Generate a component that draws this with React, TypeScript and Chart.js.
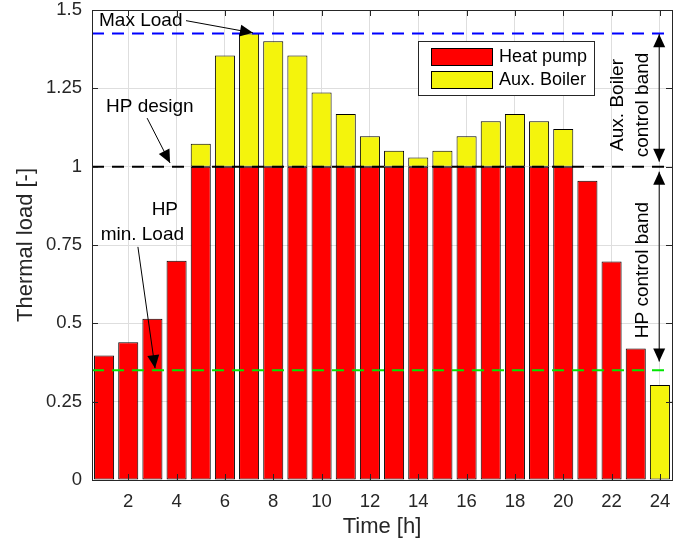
import React, { useEffect, useRef } from 'react';
import { Chart, registerables } from 'chart.js';

Chart.register(...registerables);

// ---------- data ----------
const hours = ['1', '2', '3', '4', '5', '6', '7', '8', '9', '10', '11', '12', '13', '14', '15', '16', '17', '18', '19', '20', '21', '22', '23', '24'];
const heatPump = [0.397, 0.44, 0.515, 0.7, 1, 1, 1, 1, 1, 1, 1, 1, 1, 1, 1, 1, 1, 1, 1, 1, 0.955, 0.697, 0.42, 0];
const auxBoiler = [0, 0, 0, 0, 0.073, 0.355, 0.425, 0.4, 0.355, 0.237, 0.168, 0.097, 0.051, 0.029, 0.051, 0.097, 0.145, 0.168, 0.145, 0.12, 0, 0, 0, 0.303];
const xTickLabels = ['2', '4', '6', '8', '10', '12', '14', '16', '18', '20', '22', '24'];
const yTickValues = [0, 0.25, 0.5, 0.75, 1, 1.25, 1.5];
const refLineValues = [1.425, 1, 0.35]; // max load, HP design, HP min load

// ---------- styles ----------
const FONT = '"Liberation Sans", Arial, Helvetica, sans-serif';
const AXIS_COLOR = '#262626';
const GRID_COLOR = '#dedede';
const refLineColors = ['#0000ff', '#000000', '#00e600'];
const seriesColors = ['#ff0000', '#f4f40c'];

// annotation placement in data units (x: hour, y: load)
const textNotes = [
  { text: 'Max Load', x: 0.79, y: 1.465, align: 'left', rot: 0 },
  { text: 'HP design', x: 1.08, y: 1.19, align: 'left', rot: 0 },
  { text: 'HP', x: 4.06, y: 0.862, align: 'right', rot: 0 },
  { text: 'min. Load', x: 4.31, y: 0.782, align: 'right', rot: 0 },
  { text: 'Aux. Boiler', x: 22.27, y: 1.197, align: 'center', rot: 1 },
  { text: 'control band', x: 23.31, y: 1.197, align: 'center', rot: 1 },
  { text: 'HP control band', x: 23.31, y: 0.67, align: 'center', rot: 1 },
];
const arrowNotes = [
  { x1: 4.39, y1: 1.466, x2: 7.16, y2: 1.427, both: false },
  { x1: 2.78, y1: 1.155, x2: 3.73, y2: 1.012, both: false },
  { x1: 2.4, y1: 0.744, x2: 3.11, y2: 0.357, both: false },
  { x1: 23.97, y1: 1.423, x2: 23.97, y2: 1.016, both: true },
  { x1: 23.97, y1: 0.984, x2: 23.97, y2: 0.378, both: true },
];
const legendAnchor = { x: 13.99, y: 1.401 };

function drawHead(ctx: CanvasRenderingContext2D, fx: number, fy: number, tx: number, ty: number) {
  const ang = Math.atan2(ty - fy, tx - fx);
  const len = 13;
  const half = 6;
  const bx = tx - len * Math.cos(ang);
  const by = ty - len * Math.sin(ang);
  ctx.beginPath();
  ctx.moveTo(tx, ty);
  ctx.lineTo(bx + half * Math.sin(ang), by - half * Math.cos(ang));
  ctx.lineTo(bx - half * Math.sin(ang), by + half * Math.cos(ang));
  ctx.closePath();
  ctx.fill();
}

const overlayPlugin = {
  id: 'overlay',
  afterDatasetsDraw(chart: any) {
    const { ctx, chartArea: a, scales } = chart;
    const x = scales.x;
    const y = scales.y;
    const step = x.getPixelForValue(1) - x.getPixelForValue(0);
    const px = (h: number) => x.getPixelForValue(0) + (h - 1) * step;
    const py = (v: number) => y.getPixelForValue(v);

    ctx.save();
    // reference dashed lines
    ctx.lineWidth = 2;
    ctx.setLineDash([12, 8]);
    refLineValues.forEach((v, i) => {
      ctx.strokeStyle = refLineColors[i];
      ctx.beginPath();
      ctx.moveTo(a.left, py(v));
      ctx.lineTo(a.right, py(v));
      ctx.stroke();
    });
    ctx.setLineDash([]);

    // box and inward ticks
    ctx.strokeStyle = AXIS_COLOR;
    ctx.lineWidth = 1;
    ctx.strokeRect(Math.round(a.left) + 0.5, Math.round(a.top) + 0.5, Math.round(a.right - a.left), Math.round(a.bottom - a.top));
    const tl = 6;
    ctx.beginPath();
    xTickLabels.forEach((lab) => {
      const xx = Math.round(px(Number(lab))) + 0.5;
      ctx.moveTo(xx, a.bottom);
      ctx.lineTo(xx, a.bottom - tl);
      ctx.moveTo(xx, a.top);
      ctx.lineTo(xx, a.top + tl);
    });
    yTickValues.forEach((v) => {
      const yy = Math.round(py(v)) + 0.5;
      ctx.moveTo(a.left, yy);
      ctx.lineTo(a.left + tl, yy);
      ctx.moveTo(a.right, yy);
      ctx.lineTo(a.right - tl, yy);
    });
    ctx.stroke();

    // arrows
    ctx.strokeStyle = '#000';
    ctx.fillStyle = '#000';
    ctx.lineWidth = 1;
    arrowNotes.forEach((n) => {
      const x1 = px(n.x1), y1 = py(n.y1), x2 = px(n.x2), y2 = py(n.y2);
      ctx.beginPath();
      ctx.moveTo(x1, y1);
      ctx.lineTo(x2, y2);
      ctx.stroke();
      drawHead(ctx, x1, y1, x2, y2);
      if (n.both) drawHead(ctx, x2, y2, x1, y1);
    });

    // texts
    ctx.font = `19px ${FONT}`;
    ctx.fillStyle = '#000';
    ctx.textBaseline = 'middle';
    textNotes.forEach((n) => {
      ctx.save();
      ctx.translate(px(n.x), py(n.y));
      if (n.rot) ctx.rotate(-Math.PI / 2);
      ctx.textAlign = n.align as CanvasTextAlign;
      ctx.fillText(n.text, 0, 0);
      ctx.restore();
    });

    // legend
    const lx = Math.round(px(legendAnchor.x)), ly = Math.round(py(legendAnchor.y));
    const lw = 176, lh = 54;
    ctx.fillStyle = '#fff';
    ctx.fillRect(lx, ly, lw, lh);
    ctx.strokeStyle = AXIS_COLOR;
    ctx.lineWidth = 1;
    ctx.strokeRect(lx + 0.5, ly + 0.5, lw, lh);
    ctx.font = `18px ${FONT}`;
    ctx.textAlign = 'left';
    chart.data.datasets.forEach((ds: any, i: number) => {
      const sy = ly + 7 + i * 23;
      ctx.fillStyle = ds.backgroundColor;
      ctx.fillRect(lx + 13, sy, 61, 17);
      ctx.strokeStyle = '#000';
      ctx.strokeRect(lx + 13 + 0.5, sy + 0.5, 61, 17);
      ctx.fillStyle = '#000';
      ctx.fillText(ds.label, lx + 81, sy + 9);
    });
    ctx.restore();
  },
};

export default function App() {
  const ref = useRef<HTMLCanvasElement>(null);
  useEffect(() => {
    if (!ref.current) return;
    const chart = new Chart(ref.current, {
      type: 'bar',
      data: {
        labels: hours,
        datasets: [
          {
            label: 'Heat pump',
            data: heatPump,
            backgroundColor: seriesColors[0],
            borderColor: '#000',
            borderWidth: 1,
            borderSkipped: false,
            barPercentage: 0.83,
            categoryPercentage: 1,
          },
          {
            label: 'Aux. Boiler',
            data: auxBoiler,
            backgroundColor: seriesColors[1],
            borderColor: '#000',
            borderWidth: 1,
            borderSkipped: false,
            barPercentage: 0.83,
            categoryPercentage: 1,
          },
        ],
      },
      options: {
        responsive: false,
        animation: false,
        layout: { padding: { top: 0, right: 12, left: 0, bottom: 0 } },
        plugins: { legend: { display: false }, tooltip: { enabled: false } },
        scales: {
          x: {
            stacked: true,
            afterFit: (s: any) => { s.height = 63; },
            grid: {
              offset: false,
              drawTicks: false,
              color: (c: any) => (c.index % 2 === 1 ? GRID_COLOR : 'rgba(0,0,0,0)'),
            },
            border: { display: false },
            ticks: {
              autoSkip: false,
              maxRotation: 0,
              padding: 11,
              color: AXIS_COLOR,
              font: { family: FONT, size: 18.5 },
              callback: (_v: any, i: number) => (xTickLabels.includes(hours[i]) ? hours[i] : ''),
            },
            title: {
              display: true,
              text: 'Time [h]',
              color: AXIS_COLOR,
              font: { family: FONT, size: 22 },
              padding: { top: 0, bottom: 3 },
            },
          },
          y: {
            stacked: true,
            min: 0,
            max: 1.5,
            afterFit: (s: any) => { s.width = 92; s.paddingTop = 10; s.paddingBottom = 0; },
            afterBuildTicks: (s: any) => { s.ticks = yTickValues.map((v) => ({ value: v })); },
            grid: { drawTicks: false, color: GRID_COLOR },
            border: { display: false },
            ticks: {
              padding: 10,
              color: AXIS_COLOR,
              font: { family: FONT, size: 18.5 },
              callback: (v: any) => String(v),
            },
            title: {
              display: true,
              text: 'Thermal load [-]',
              color: AXIS_COLOR,
              font: { family: FONT, size: 22 },
              padding: { top: 13, bottom: 0 },
            },
          },
        },
      },
      plugins: [overlayPlugin],
    } as any);
    return () => chart.destroy();
  }, []);
  return (
    <div style={{ position: 'absolute', left: 0, top: 0, width: 684, height: 543 }}>
      <canvas ref={ref} width={684} height={543} style={{ display: 'block' }} />
    </div>
  );
}
